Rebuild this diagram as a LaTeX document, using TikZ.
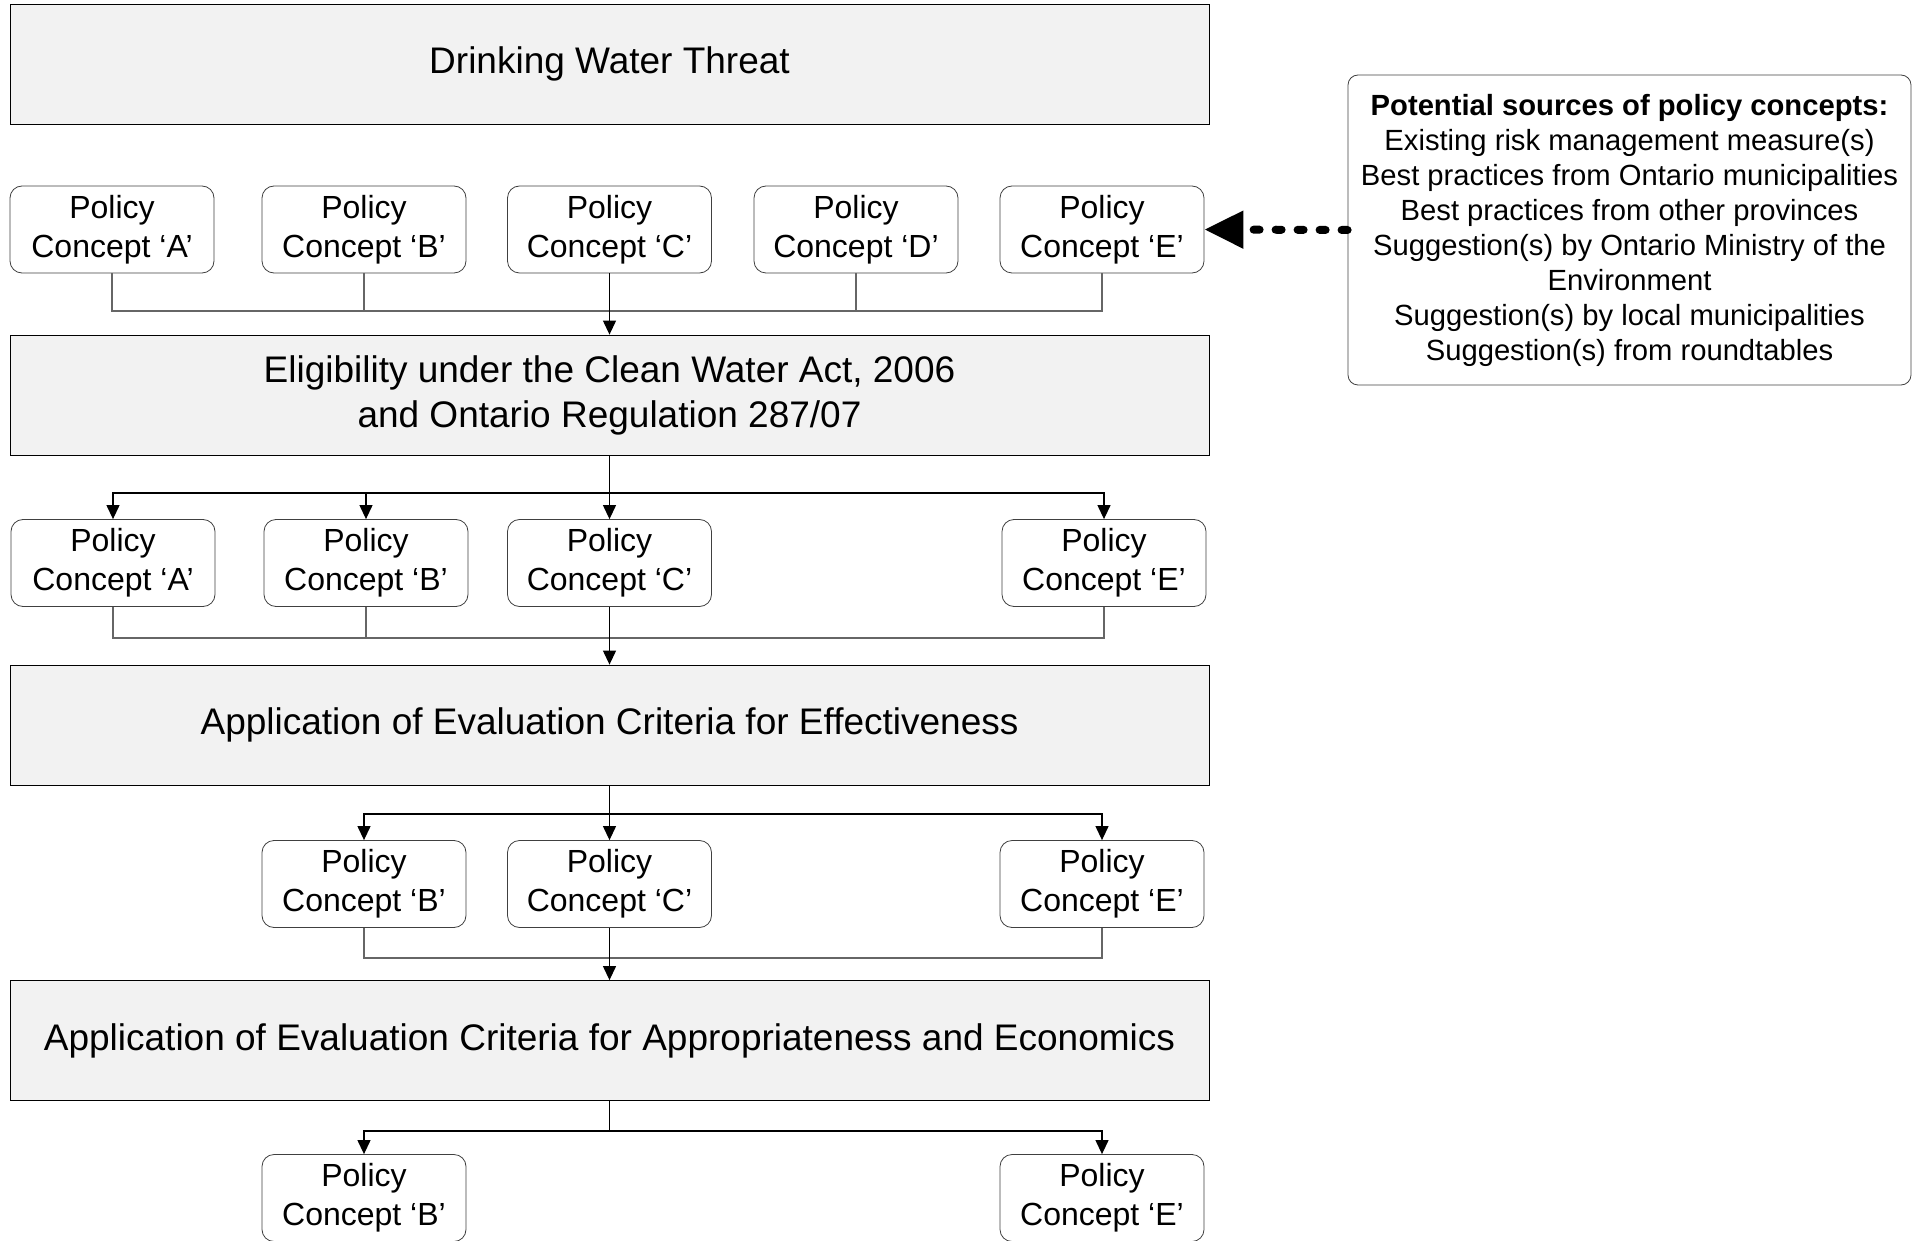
\documentclass[tikz,border=0pt]{standalone}
\usepackage{fontspec}
\setmainfont{Liberation Sans}
\usetikzlibrary{arrows.meta}

\begin{document}
\begin{tikzpicture}[x=0.5pt, y=-0.5pt,
  stage/.style={draw, fill=gray!10, minimum width=599.5pt, minimum height=60pt, inner sep=0pt, align=center, font=\fontsize{18.5}{22.5}\selectfont},
  concept/.style={draw=black!75, fill=white, rounded corners=6pt, minimum width=102pt, minimum height=43.5pt, inner sep=0pt, align=center, font=\fontsize{16}{19.5}\selectfont},
  merge/.style={draw=black!60, line width=0.6pt},
  flow/.style={draw, line width=0.6pt, -{Triangle[width=6.5pt,length=7pt]}}]
\useasboundingbox (0,0) rectangle (1923,1241);

% Stages
\node[stage] (S1) at (609.5,64) {Drinking Water Threat};
\node[stage] (S2) at (609.5,395) {Eligibility under the Clean Water Act, 2006\\and Ontario Regulation 287/07};
\node[stage] (S3) at (609.5,725) {Application of Evaluation Criteria for Effectiveness};
\node[stage] (S4) at (609.5,1040.5) {Application of Evaluation Criteria for Appropriateness and Economics};

% Sources
\node[draw=black!75, rounded corners=5pt, minimum width=281.5pt, minimum height=155pt, inner sep=0pt, align=center,
  font=\fontsize{14.6}{17.5}\selectfont] (src) at (1629.5,230)
  {\textbf{Potential sources of policy concepts:}\\Existing risk management measure(s)\\Best practices from Ontario municipalities\\Best practices from other provinces\\Suggestion(s) by Ontario Ministry of the\\Environment\\Suggestion(s) by local municipalities\\Suggestion(s) from roundtables};

% Row 1
\node[concept] (A1) at (112,229.5) {Policy\\Concept ‘A’};
\node[concept] (B1) at (364,229.5) {Policy\\Concept ‘B’};
\node[concept] (C1) at (609.5,229.5) {Policy\\Concept ‘C’};
\node[concept] (D1) at (856,229.5) {Policy\\Concept ‘D’};
\node[concept] (E1) at (1102,229.5) {Policy\\Concept ‘E’};

% Row 2
\node[concept] (A2) at (113,563) {Policy\\Concept ‘A’};
\node[concept] (B2) at (366,563) {Policy\\Concept ‘B’};
\node[concept] (C2) at (609.5,563) {Policy\\Concept ‘C’};
\node[concept] (E2) at (1104,563) {Policy\\Concept ‘E’};

% Row 3
\node[concept] (B3) at (364,884) {Policy\\Concept ‘B’};
\node[concept] (C3) at (609.5,884) {Policy\\Concept ‘C’};
\node[concept] (E3) at (1102,884) {Policy\\Concept ‘E’};

% Row 4
\node[concept] (B4) at (364,1198) {Policy\\Concept ‘B’};
\node[concept] (E4) at (1102,1198) {Policy\\Concept ‘E’};

\coordinate (j1) at (609.5,311);
\coordinate (b2) at (609.5,493);
\coordinate (j2) at (609.5,638);
\coordinate (b3) at (609.5,814);
\coordinate (j3) at (609.5,958);
\coordinate (b4) at (609.5,1131);

\draw[merge] (A1.south) |- (j1) -| (E1.south);
\draw[merge] (B1.south) -- (B1.south |- j1);
\draw[merge] (D1.south) -- (D1.south |- j1);
\draw[flow] (C1.south) -- (S2.north);

\draw[flow] (S2.south) -- (C2.north);
\draw[flow] (b2) -| (A2.north);
\draw[flow] (b2) -| (B2.north);
\draw[flow] (b2) -| (E2.north);

\draw[merge] (A2.south) |- (j2) -| (E2.south);
\draw[merge] (B2.south) -- (B2.south |- j2);
\draw[flow] (C2.south) -- (S3.north);

\draw[flow] (S3.south) -- (C3.north);
\draw[flow] (b3) -| (B3.north);
\draw[flow] (b3) -| (E3.north);

\draw[merge] (B3.south) |- (j3) -| (E3.south);
\draw[flow] (C3.south) -- (S4.north);

\draw[line width=0.6pt] (S4.south) -- (b4);
\draw[flow] (b4) -| (B4.north);
\draw[flow] (b4) -| (E4.north);

\draw[line width=4pt, line cap=round, dash pattern=on 3pt off 8pt, -{Triangle[width=18pt,length=19.5pt]}] (src.west) -- (E1.east);
\end{tikzpicture}
\end{document}
